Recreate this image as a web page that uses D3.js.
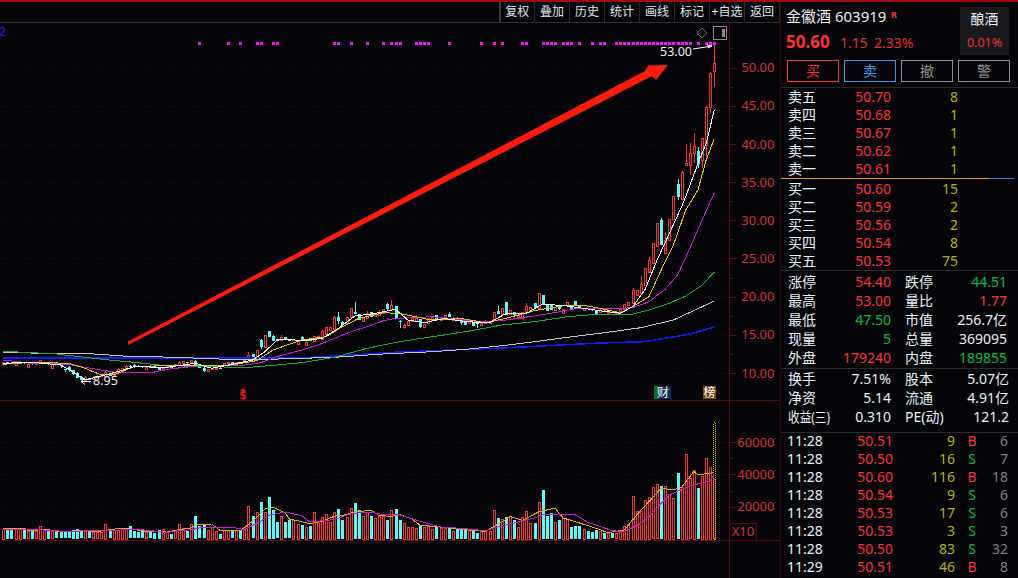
<!DOCTYPE html>
<html>
<head>
<meta charset="utf-8">
<script src="https://cdn.jsdelivr.net/npm/d3@7"></script>
<style>
html,body{margin:0;padding:0;background:#050509;overflow:hidden}
text{font-family:"Noto Sans","Noto Sans CJK SC",sans-serif}
</style>
</head>
<body>
<svg id="chart" width="1018" height="578"></svg>
<script>
// daily bars, price in yuan
const opens = [11.2,11.4,11.35,11.14,11.25,11.4,10.83,11.3,11.15,11.35,
11.25,11.27,10.7,11.2,11.14,10.48,10.74,10.39,10.05,9.52,
9.09,9.3,9.3,9.48,9.57,9.65,9.74,9.7,10.09,10.18,
10.52,10.92,11.0,10.95,10.9,10.6,10.95,10.95,10.7,10.5,
10.75,10.8,11.0,11.05,11.3,11.4,11.4,11.6,10.92,10.7,
10.3,10.5,10.6,10.7,11.0,11.27,11.4,11.22,11.48,11.4,
11.97,12.5,12.0,14.32,13.36,15.5,14.85,14.45,14.32,14.67,
14.45,14.23,13.8,14.67,13.66,14.4,14.23,14.53,14.53,15.1,
15.54,15.84,17.28,16.72,16.5,17.28,18.02,17.72,16.72,17.15,
18.02,17.46,17.59,17.8,19.03,18.33,18.77,16.85,16.06,16.28,
16.72,16.72,17.02,16.06,16.5,16.85,17.59,17.0,17.28,17.72,
17.02,17.24,17.02,16.85,16.58,16.63,16.5,16.2,16.58,16.5,
16.85,18.16,17.72,19.29,17.68,18.02,17.37,17.15,18.02,18.24,
19.12,18.46,20.16,18.9,18.9,18.16,18.77,17.8,18.81,18.77,
19.38,18.77,18.16,18.5,18.33,18.16,18.0,18.15,17.85,18.0,
17.9,18.05,18.33,18.9,19.12,20.21,20.43,21.52,23.26,24.35,
26.53,30.02,25.75,27.41,30.11,34.74,32.77,37.27,37.22,38.84,
39.1,37.88,39.84,44.86,49.6];
const closes = [11.4,11.25,11.2,11.35,11.4,11.25,11.18,11.15,11.3,11.7,
11.4,11.09,11.18,11.05,10.83,10.3,10.39,9.83,9.39,9.17,
9.52,9.09,9.5,9.65,9.74,10.13,9.6,9.95,10.48,10.61,
10.96,10.74,10.74,10.8,10.75,10.85,10.75,10.8,10.5,10.7,
10.93,10.65,11.15,11.48,11.57,11.27,11.66,11.14,10.7,10.35,
10.52,10.65,10.7,10.6,11.27,11.44,11.05,11.44,11.27,11.7,
12.4,11.97,13.0,13.45,14.98,14.76,14.23,14.2,14.67,14.32,
14.23,14.4,14.2,14.32,14.1,14.2,14.84,14.84,15.54,15.97,
15.97,17.37,16.72,16.28,17.28,18.5,17.8,16.93,17.15,17.8,
17.37,17.8,18.02,18.33,18.33,18.9,17.15,16.72,16.28,16.85,
17.15,17.15,15.97,16.41,17.15,17.28,17.02,17.2,17.59,17.37,
17.24,17.02,16.5,16.28,16.93,16.15,16.33,16.5,16.85,16.76,
17.94,17.72,18.46,17.59,18.24,17.6,17.59,17.94,18.77,18.6,
18.46,20.42,19.03,18.16,18.24,18.59,18.33,18.33,19.25,18.24,
18.77,18.46,18.46,18.33,18.16,17.8,18.2,18.0,18.0,17.85,
18.05,18.33,19.03,19.33,20.86,20.86,21.6,23.7,24.79,26.97,
29.59,26.75,27.41,30.11,33.16,33.08,36.35,37.53,38.75,39.71,
37.44,40.71,44.86,49.31,50.6];
const highs = [11.45,11.45,11.4,11.4,11.6,11.45,11.25,11.35,11.35,11.75,
11.45,11.3,11.2,11.25,11.2,10.55,10.9,10.45,10.1,9.55,
9.6,9.35,9.55,9.7,9.8,10.2,9.8,10.0,10.6,10.7,
11.05,11.0,11.2,11.0,10.95,10.9,11.0,11.0,10.75,10.75,
11.0,10.85,11.2,11.55,11.6,11.45,11.7,11.65,10.95,10.75,
10.55,10.7,10.75,10.75,11.3,11.5,11.45,11.5,11.5,11.75,
12.75,12.55,13.05,14.4,15.0,15.55,14.95,14.5,14.95,14.75,
14.5,14.45,14.25,14.9,14.15,14.45,14.9,15.0,15.6,16.0,
16.0,17.4,17.94,16.8,17.3,18.55,19.25,17.75,17.2,18.1,
18.05,17.85,18.3,18.35,19.2,19.5,18.8,16.9,16.4,16.9,
17.2,17.2,17.05,16.45,17.2,17.3,17.65,17.25,17.6,18.0,
17.3,17.3,17.1,16.9,16.95,16.65,16.55,16.55,16.9,16.8,
17.95,18.77,18.5,19.3,18.3,18.05,17.65,18.0,19.1,18.65,
19.15,20.45,20.2,18.95,18.95,18.65,18.8,18.4,19.3,18.8,
19.4,18.8,18.5,18.55,18.35,18.2,18.25,18.2,18.05,18.05,
18.1,18.35,19.05,19.35,21.08,20.9,22.69,23.75,25.31,27.0,
29.6,30.24,28.5,30.15,33.2,35.39,36.4,39.97,40.06,41.37,
39.62,40.71,44.9,49.35,53];
const lows = [11.15,11.2,11.15,11.1,11.2,11.2,10.8,11.1,11.1,11.3,
11.2,11.05,10.65,11.0,10.7,10.1,10.15,9.8,9.35,9.1,
8.95,9.05,9.25,9.45,9.5,9.6,9.55,9.65,10.05,10.15,
10.5,10.7,10.7,10.75,10.7,10.55,10.7,10.75,10.45,10.45,
10.7,10.6,10.95,11.0,11.25,11.2,11.35,11.1,10.6,10.1,
10.25,10.45,10.55,10.55,10.95,11.2,11.0,11.2,11.25,11.35,
11.9,11.9,11.95,13.2,13.3,14.7,14.2,14.15,14.3,14.3,
14.2,14.2,13.75,14.3,13.6,14.15,14.2,14.5,14.5,15.05,
15.5,15.8,16.37,16.25,16.45,17.25,17.7,16.9,16.7,17.1,
17.35,17.4,17.55,17.75,18.3,18.3,17.1,15.85,15.7,16.25,
16.7,16.7,15.95,16.0,16.45,16.8,17.0,16.95,17.25,17.35,
17.0,17.0,16.3,16.25,16.55,16.1,15.95,16.15,16.55,16.45,
16.8,17.7,17.7,17.55,17.65,17.37,17.3,17.1,18.0,18.2,
18.45,18.4,19.0,18.1,18.2,18.1,18.3,17.75,18.8,18.2,
18.75,18.45,18.1,18.3,18.1,17.59,17.95,17.95,17.8,17.8,
17.85,18.0,18.3,18.85,19.1,20.2,20.4,21.5,23.2,24.3,
26.5,26.7,25.7,27.4,30.1,32.64,32.7,37.27,35.91,37.44,
36.79,36.79,38.3,43.98,47.5];
const volumes = [6030,5620,6030,6030,6030,5620,4580,5620,4580,8110,
6030,5620,4580,4580,3950,3950,3950,5620,6240,4580,
4580,3950,3950,3950,3950,9360,4580,5620,5620,6240,
6240,7700,4580,3950,4580,3950,3950,3540,5620,6240,
3950,3120,4580,9360,6660,4580,9360,14350,7700,8320,
5620,7280,4990,3120,5620,5620,4580,5620,5620,7280,
20590,13940,16850,23090,16850,26210,18100,10190,14350,10190,
11440,11860,9360,8740,7280,8110,16850,10610,13520,15600,
10610,16850,18720,11860,13520,19340,22460,18100,14350,16640,
14350,13100,14350,14350,11860,18100,18720,11860,9980,7490,
7490,6860,8110,7490,8740,6240,7490,6860,6860,6860,
4990,6240,6240,5620,5620,4990,3740,4990,4990,4990,
18100,13100,12480,13730,14350,11860,7490,13730,17470,9980,
9980,23090,30580,14350,16220,10610,11860,13100,12480,7490,
8110,8110,6240,4990,4370,5620,4990,3740,3330,3330,
3330,4370,7900,9150,26620,17260,17260,24130,26000,32030,
33900,32860,32860,27870,25380,40980,32450,52830,37650,42850,
31620,39100,50340,44720,36909];
const projectedVolume = 72900;

// moving averages as [bar, value] readings
const ma5 = [[0,11.27],[7,11.4],[14,11.05],[17,10.18],[20,9.09],[24,9.61],[28,10.18],[32,10.83],[40,10.74],[47,11.27],[51,10.61],[56,11.14],[61,11.7],[64,12.79],[67,14.32],[70,14.41],[73,14.2],[78,14.53],[82,15.84],[86,17.46],[91,17.8],[96,18.33],[99,16.93],[103,16.58],[108,17.15],[113,16.72],[119,16.58],[123,17.8],[128,17.8],[132,19.03],[138,18.77],[142,18.46],[146,18.16],[151,17.81],[154,18.68],[157,20.86],[160,24.79],[163,28.28],[166,31.77],[167,33.08],[170,37.44],[172,40.06],[174,44.42]];
const ma10 = [[0,11.14],[7,11.4],[16,11.27],[20,10.61],[24,9.74],[27,9.74],[32,10.83],[37,10.92],[43,10.96],[56,11.05],[62,11.62],[66,13.01],[73,14.32],[79,14.75],[83,16.06],[87,17.15],[93,17.89],[97,17.8],[104,17.02],[108,17.02],[112,17.15],[118,16.58],[123,17.15],[130,18.16],[138,18.9],[143,18.77],[146,18.46],[151,17.89],[154,18.68],[158,19.99],[161,23.48],[164,26.75],[167,31.33],[170,33.95],[172,37.88],[174,40.71]];
const ma20 = [[0,11.7],[7,11.27],[16,11.14],[20,10.74],[24,10.39],[28,10.05],[37,10.13],[40,10.48],[48,10.96],[58,10.96],[63,11.35],[67,12.14],[73,13.01],[77,13.66],[81,14.53],[85,15.41],[89,16.06],[93,16.85],[96,17.15],[105,17.37],[111,17.02],[117,16.72],[123,16.93],[130,17.46],[136,18.02],[141,18.5],[146,18.5],[151,18.46],[154,18.55],[158,19.33],[162,20.99],[165,22.82],[168,26.31],[171,30.02],[174,33.6]];
const ma60 = [[0,12.84],[7,12.66],[13,12.49],[20,12.05],[26,11.7],[32,11.4],[38,11.05],[48,10.83],[60,10.74],[67,11.05],[73,11.35],[81,12.05],[89,13.23],[97,14.1],[105,14.75],[114,15.49],[122,16.28],[130,16.72],[138,17.37],[146,17.72],[154,17.72],[158,18.24],[163,19.12],[167,20.08],[171,21.5],[174,23.22]];
const ma120 = [[0,12.66],[21,12.53],[32,12.13],[40,12.09],[53,11.83],[67,11.83],[81,12.05],[93,12.49],[105,12.79],[114,13.14],[122,13.57],[130,14.1],[138,14.67],[146,15.2],[156,15.93],[164,16.94],[174,19.42]];
const ma250 = [[0,11.96],[73,11.96],[97,12.75],[122,13.27],[146,13.93],[157,14.1],[168,15.1],[174,16.02]];
const volMa5 = [[0,6660],[5,6660],[6,5200],[11,5620],[14,4160],[20,5200],[22,4160],[25,5200],[29,6660],[35,4580],[40,4160],[42,5200],[46,6660],[47,8530],[51,9150],[53,5200],[58,4990],[61,10820],[64,18510],[66,19760],[69,16020],[70,12270],[73,10610],[75,9360],[78,10820],[81,13940],[84,14980],[86,16640],[90,17680],[92,14350],[95,13940],[97,14980],[100,12270],[102,8320],[107,7280],[113,5620],[118,4580],[122,10400],[124,13940],[127,11440],[131,16640],[135,19140],[137,12900],[141,9780],[146,5620],[148,3740],[152,5410],[155,14770],[158,23090],[161,31410],[164,30370],[166,32030],[169,41810],[170,39730],[174,41180]];
const volMa10 = [[0,6030],[13,5200],[14,4580],[28,5200],[32,6030],[40,3950],[46,5620],[48,6660],[52,7280],[56,7070],[59,5620],[63,10820],[65,14560],[69,16640],[73,14350],[75,10400],[81,11860],[85,15600],[90,16640],[92,15390],[97,14770],[102,10820],[107,7280],[112,6450],[118,4990],[121,7280],[126,10400],[130,12900],[132,14980],[136,15390],[140,14770],[143,10190],[146,7700],[149,4990],[152,4370],[156,9570],[158,13730],[161,22050],[163,27250],[168,32860],[173,35980],[174,40350]];

// bars that carry a magenta mark along the top
const markBars = [48,55,58,62,63,66,67,81,82,85,89,93,95,96,97,101,102,103,104,109,117,120,122,127,128,132,133,134,135,137,138,139,141,144,146,147,150,151,152,153,154,155,156,157,158,159,160,161,162,163,164,165,166,167,168,170,172,173,174];

const priceTicks = [10,15,20,25,30,35,40,45,50];
const priceMinor = [12.5,17.5,22.5,27.5,32.5,37.5,42.5,47.5,52.5];
const volTicks = [20000,40000,60000];
const volMinor = [10000,30000,50000];
const toolLabels = ["复权","叠加","历史","统计","画线","标记","+自选","返回"];

// quote panel
const sellLabels = ["卖五","卖四","卖三","卖二","卖一"];
const sellPrices = ["50.70","50.68","50.67","50.62","50.61"];
const sellSizes = ["8","1","1","1","1"];
const buyLabels = ["买一","买二","买三","买四","买五"];
const buyPrices = ["50.60","50.59","50.56","50.54","50.53"];
const buySizes = ["15","2","2","8","75"];
const statLeftLabels = ["涨停","最高","最低","现量","外盘"];
const statLeftValues = ["54.40","53.00","47.50","5","179240"];
const statLeftColors = ["red","red","green","green","red"];
const statRightLabels = ["跌停","量比","市值","总量","内盘"];
const statRightValues = ["44.51","1.77","256.7亿","369095","189855"];
const statRightColors = ["green","red","white","white","green"];
const infoLeftLabels = ["换手","净资","收益(三)"];
const infoLeftValues = ["7.51%","5.14","0.310"];
const infoRightLabels = ["股本","流通","PE(动)"];
const infoRightValues = ["5.07亿","4.91亿","121.2"];
const tickTimes = ["11:28","11:28","11:28","11:28","11:28","11:28","11:28","11:29"];
const tickPrices = ["50.51","50.50","50.60","50.54","50.53","50.53","50.50","50.51"];
const tickSizes = ["9","16","116","9","17","3","83","46"];
const tickSides = ["B","S","B","S","S","S","S","B"];
const tickCounts = ["6","7","18","6","6","3","32","8"];

const RED = "#ff3232", CYAN = "#54fcfc", YEL = "#b4b400", DARKRED = "#5c0808", WHITE = "#e8f0f8", GREEN = "#00c040";
const colorOf = {red: RED, green: GREEN, white: WHITE};

const svg = d3.select("#chart");
const xBar = d3.scaleLinear().domain([0, 174]).range([3.3, 714.3]);
const yPrice = d3.scaleLinear().domain([10, 50]).range([373, 67.5]);
const yVol = d3.scaleLinear().domain([0, 60000]).range([538.7, 442.3]);
const px = i => Math.round(xBar(i));

// frame
svg.append("rect").attr("x", 0).attr("y", 0).attr("width", 1018).attr("height", 2).attr("fill", "#9c0a0a");
function hline(x1, x2, y, c){ svg.append("line").attr("x1", x1).attr("x2", x2).attr("y1", y).attr("y2", y).attr("stroke", c).attr("shape-rendering", "crispEdges"); }
function vline(x, y1, y2, c, w){ svg.append("line").attr("x1", x).attr("x2", x).attr("y1", y1).attr("y2", y2).attr("stroke", c).attr("stroke-width", w || 1).attr("shape-rendering", "crispEdges"); }
hline(0, 780, 22.5, "#2e2e2e");
hline(0, 780, 400.5, DARKRED);
hline(0, 780, 540.5, DARKRED);
vline(729.5, 22, 578, DARKRED);
vline(780.5, 2, 578, "#3a0606");

// toolbar
const toolSeps = [500,534.5,569.5,604.5,639.5,674.5,709.5,744.5,779.5];
svg.append("g").selectAll("line").data(toolSeps).join("line")
	.attr("x1", d => d).attr("x2", d => d).attr("y1", 2).attr("y2", 22)
	.attr("stroke", (d, i) => i ? "#2a2a2a" : "#3a3a3a").attr("stroke-width", (d, i) => i ? 1 : 2);
svg.append("g").selectAll("text").data(toolLabels).join("text")
	.attr("x", (d, i) => (toolSeps[i] + toolSeps[i + 1]) / 2).attr("y", 16)
	.attr("text-anchor", "middle").attr("font-size", 12).attr("fill", "#dfe6ee").text(d => d);

// grid
const grid = svg.append("g").attr("stroke", "#440b0b").attr("stroke-dasharray", "1,5");
grid.selectAll(".gp").data(priceTicks).join("line").attr("class", "gp")
	.attr("x1", 0).attr("x2", 729).attr("y1", d => Math.round(yPrice(d)) + .5).attr("y2", d => Math.round(yPrice(d)) + .5);
grid.selectAll(".gv").data(volTicks).join("line").attr("class", "gv")
	.attr("x1", 0).attr("x2", 729).attr("y1", d => Math.round(yVol(d)) + .5).attr("y2", d => Math.round(yVol(d)) + .5);

// axes
function drawAxis(scale, major, minor, fmt){
	const a = svg.append("g").attr("transform", "translate(729.5,0)").call(
		d3.axisRight(scale).tickValues(major).tickSize(6).tickPadding(8).tickFormat(fmt));
	a.select(".domain").remove();
	a.selectAll("line").attr("stroke", DARKRED).attr("shape-rendering", "crispEdges");
	a.selectAll("text").attr("fill", "#d83030").attr("font-size", 13)
		.attr("font-family", '"Noto Sans",sans-serif').attr("x", 45).attr("text-anchor", "end");
	const b = svg.append("g").attr("transform", "translate(729.5,0)").call(
		d3.axisRight(scale).tickValues(minor).tickSize(3).tickFormat(""));
	b.select(".domain").remove();
	b.selectAll("line").attr("stroke", DARKRED).attr("shape-rendering", "crispEdges");
}
drawAxis(yPrice, priceTicks, priceMinor, d => d.toFixed(2));
drawAxis(yVol, volTicks, volMinor, d => d);

// X10 box
svg.append("rect").attr("x", 729.5).attr("y", 523.5).attr("width", 27).attr("height", 17)
	.attr("fill", "none").attr("stroke", DARKRED).attr("shape-rendering", "crispEdges");
svg.append("text").attr("x", 743).attr("y", 536).attr("text-anchor", "middle")
	.attr("font-size", 13).attr("fill", "#d83030").text("X10");

// moving averages and candles
const bars = closes.map((c, i) => ({i, o: opens[i], c, h: highs[i], l: lows[i], v: volumes[i], up: c >= opens[i]}));
const priceLine = d3.line().x(d => xBar(d[0])).y(d => yPrice(d[1]));
const volLine = d3.line().x(d => xBar(d[0])).y(d => yVol(d[1]));

function drawLine(gen, data, color, w){
	svg.append("path").attr("d", gen(data)).attr("fill", "none").attr("stroke", color)
		.attr("stroke-width", w || 1).attr("shape-rendering", "crispEdges");
}

const candleG = svg.append("g").attr("shape-rendering", "crispEdges");
candleG.selectAll("line").data(bars).join("line")
	.attr("x1", d => px(d.i) + .5).attr("x2", d => px(d.i) + .5)
	.attr("y1", d => yPrice(d.h)).attr("y2", d => yPrice(d.l))
	.attr("stroke", d => d.up ? RED : CYAN);
candleG.selectAll("rect").data(bars).join("rect")
	.attr("x", d => d.up ? px(d.i) - .5 : px(d.i) - 1)
	.attr("width", d => d.up ? 2 : 3)
	.attr("y", d => d.up ? Math.round(yPrice(d.c)) + .5 : Math.round(yPrice(d.o)))
	.attr("height", d => Math.max(1, Math.round(Math.abs(yPrice(d.c) - yPrice(d.o)))))
	.attr("fill", d => d.up ? "#050509" : CYAN)
	.attr("stroke", d => d.up ? RED : "none");

drawLine(priceLine, ma250, "#0a1eff", 1.5);
drawLine(priceLine, ma120, "#c4c4c4");
drawLine(priceLine, ma60, "#10b030");
drawLine(priceLine, ma20, "#d010e0");
drawLine(priceLine, ma10, "#e8c800");
drawLine(priceLine, ma5, "#ffffff");

// volume bars
const volG = svg.append("g").attr("shape-rendering", "crispEdges");
volG.selectAll("rect").data(bars).join("rect")
	.attr("x", d => d.up ? px(d.i) - .5 : px(d.i) - 1)
	.attr("width", d => d.up ? 2 : 3)
	.attr("y", d => Math.round(yVol(d.v)) + (d.up ? .5 : 0))
	.attr("height", d => Math.round(yVol(0) - yVol(d.v)))
	.attr("fill", d => d.up ? "#050509" : CYAN)
	.attr("stroke", d => d.up ? RED : "none");
svg.append("rect").attr("x", px(174) - .5).attr("width", 2)
	.attr("y", Math.round(yVol(projectedVolume)) + .5).attr("height", Math.round(yVol(0) - yVol(projectedVolume)))
	.attr("fill", "none").attr("stroke", "#c8c800").attr("stroke-dasharray", "1,1").attr("shape-rendering", "crispEdges");
drawLine(volLine, volMa5, "#d8b000");
drawLine(volLine, volMa10, "#d010e0");

// top marks
svg.append("g").selectAll("rect").data(markBars).join("rect")
	.attr("x", d => px(d) - 1).attr("y", 42).attr("width", 3).attr("height", 3).attr("fill", "#ff10ff");

// corner icons
svg.append("text").attr("x", -1).attr("y", 36).attr("font-size", 12).attr("fill", "#1a1ae0").text("2");
svg.append("path").attr("d", "M702 28l5 5l-5 5l-5-5z").attr("fill", "none").attr("stroke", "#6a6a6a");
svg.append("rect").attr("x", 713.5).attr("y", 26.5).attr("width", 13).attr("height", 13)
	.attr("fill", "none").attr("stroke", "#8a8a8a").attr("shape-rendering", "crispEdges");
svg.append("rect").attr("x", 722).attr("y", 29).attr("width", 3).attr("height", 8).attr("fill", "#8a8a8a");

// high and low labels
svg.append("text").attr("x", 660).attr("y", 56).attr("font-size", 12.5).attr("fill", WHITE).text("53.00");
svg.append("path").attr("d", "M693 49L712 46M707 45L712 46L708 48").attr("fill", "none").attr("stroke", "#fff");
svg.append("text").attr("x", 93).attr("y", 385).attr("font-size", 12.5).attr("fill", WHITE).text("8.95");
svg.append("path").attr("d", "M91 381.5H81M85 378.5L81 381.5L85 384.5").attr("fill", "none").attr("stroke", "#fff");

// big red arrow
svg.append("path").attr("d", "M128 341.5L645 71L648 65.5L668 65L656 80L652 76L128 345Z").attr("fill", "#ff1a0a");

// event tags
svg.append("text").attr("x", 243).attr("y", 400).attr("text-anchor", "middle").attr("font-size", 12).attr("font-weight", "bold").attr("fill", "#e81010").text("$");
svg.append("path").attr("d", "M243 388l-3 3h6z").attr("fill", "#e81010");
svg.append("rect").attr("x", 654).attr("y", 386).attr("width", 4).attr("height", 13).attr("fill", "#007a20");
svg.append("rect").attr("x", 658).attr("y", 386).attr("width", 13).attr("height", 13).attr("fill", "#0a2c5c");
svg.append("text").attr("x", 663).attr("y", 397).attr("text-anchor", "middle").attr("font-size", 12).attr("fill", "#fff").text("财");
svg.append("rect").attr("x", 703).attr("y", 386).attr("width", 13).attr("height", 13).attr("fill", "#7a4208");
svg.append("text").attr("x", 709.5).attr("y", 397).attr("text-anchor", "middle").attr("font-size", 12).attr("fill", "#fff").text("榜");

// right panel helpers
function label(x, y, s, color, size, anchor, weight){
	return svg.append("text").attr("x", x).attr("y", y - 1).attr("font-size", size || 14).attr("fill", color)
		.attr("text-anchor", anchor || "start").attr("dominant-baseline", "central")
		.attr("font-weight", weight || "normal").text(s);
}

label(786, 17, "金徽酒 603919", WHITE, 15);
label(891, 15, "R", RED, 9, "start", "bold");
label(786, 42, "50.60", RED, 17, "start", "bold");
label(840, 43, "1.15", "#e83030", 14);
label(874, 43, "2.33%", "#e83030", 14);
svg.append("rect").attr("x", 960).attr("y", 7).attr("width", 49).attr("height", 48).attr("fill", "#1a1a1e");
label(984.5, 19, "酿酒", WHITE, 14, "middle");
label(984.5, 43, "0.01%", "#e83030", 12.5, "middle");

const tradeButtons = ["买","卖","撤","警"];
const tradeColors = [RED, "#3a96e8", "#909090", "#909090"];
svg.append("g").selectAll("rect").data(tradeButtons).join("rect")
	.attr("x", (d, i) => 787.5 + i * 57).attr("y", 60.5).attr("width", 51).attr("height", 21)
	.attr("fill", "none").attr("stroke", (d, i) => tradeColors[i]).attr("shape-rendering", "crispEdges");
tradeButtons.forEach((d, i) => label(813 + i * 57, 71, d, tradeColors[i], 14, "middle"));

hline(781, 1018, 87.5, "#2a2a2a");
sellLabels.forEach((d, i) => {
	const y = 97 + i * 18;
	label(788, y, d, WHITE);
	label(891, y, sellPrices[i], RED, 14, "end");
	label(958, y, sellSizes[i], YEL, 14, "end");
});
hline(781, 989, 178.5, "#e89a20");
hline(989, 1014, 178.5, "#2a80d8");
buyLabels.forEach((d, i) => {
	const y = 189 + i * 18;
	label(788, y, d, WHITE);
	label(891, y, buyPrices[i], RED, 14, "end");
	label(958, y, buySizes[i], YEL, 14, "end");
});
hline(781, 1018, 270.5, "#2a2a2a");
statLeftLabels.forEach((d, i) => {
	const y = 282 + i * 19;
	label(788, y, d, WHITE);
	label(891, y, statLeftValues[i], colorOf[statLeftColors[i]], 14, "end");
	label(905, y, statRightLabels[i], WHITE);
	label(1007, y, statRightValues[i], colorOf[statRightColors[i]], 14, "end");
});
hline(781, 1018, 368.5, "#2a2a2a");
infoLeftLabels.forEach((d, i) => {
	const y = 379 + i * 19;
	const t = label(788, y, d, WHITE);
	if(i == 2) t.attr("textLength", 42).attr("lengthAdjust", "spacingAndGlyphs");
	label(891, y, infoLeftValues[i], WHITE, 14, "end");
	label(905, y, infoRightLabels[i], WHITE);
	label(1009, y, infoRightValues[i], WHITE, 14, "end");
});
hline(781, 1018, 432.5, "#2a2a2a");
tickTimes.forEach((d, i) => {
	const y = 441 + i * 18;
	label(787, y, d, WHITE);
	label(893, y, tickPrices[i], RED, 14, "end");
	label(955, y, tickSizes[i], YEL, 14, "end");
	label(972, y, tickSides[i], tickSides[i] == "B" ? RED : GREEN, 14, "middle");
	label(1008, y, tickCounts[i], "#808080", 14, "end");
});
</script>
</body>
</html>
